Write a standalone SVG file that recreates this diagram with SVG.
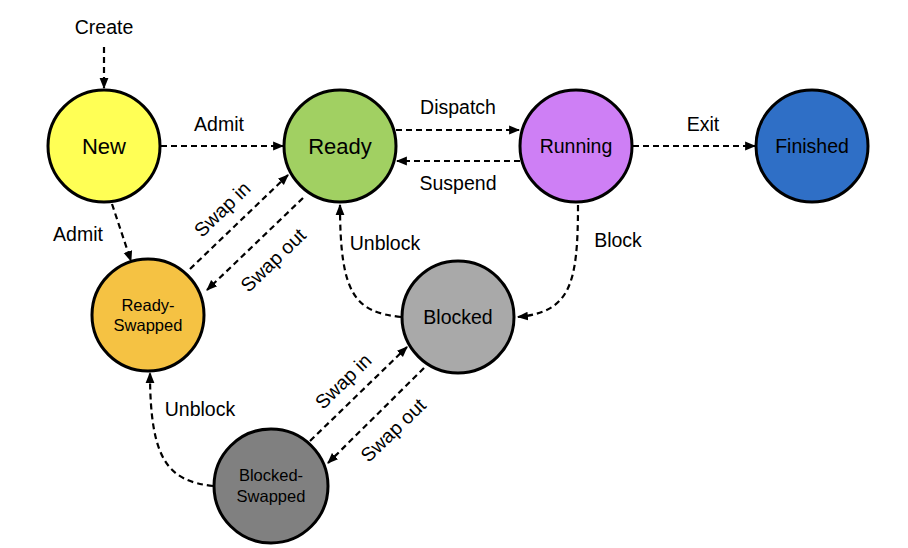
<svg xmlns="http://www.w3.org/2000/svg" width="908" height="548" viewBox="0 0 908 548">
<style>
.n{stroke:#000;stroke-width:3}
.t{font-family:"Liberation Sans",Arial,sans-serif;fill:#000;text-anchor:middle;dominant-baseline:central}
.e{fill:none;stroke:#000;stroke-width:2.2;stroke-dasharray:6,4;marker-end:url(#a)}
.l{font-family:"Liberation Sans",Arial,sans-serif;font-size:19.5px;fill:#000;text-anchor:middle;dominant-baseline:central}
</style>
<defs>
<marker id="a" viewBox="0 0 10 10" refX="9" refY="5" markerWidth="5" markerHeight="5" orient="auto" markerUnits="strokeWidth">
<path d="M0,1 L10,5 L0,9 Z" fill="#000"/>
</marker>
</defs>
<rect width="908" height="548" fill="#fff"/>
<g id="connectors">
<path class="e" d="M104,47 L104,88"/>
<path class="e" d="M161,146 L283,146"/>
<path class="e" d="M396,130 L519,130"/>
<path class="e" d="M520,161 L397,161"/>
<path class="e" d="M633,146 L755,146"/>
<path class="e" d="M578,205 C578,285 570,312 518,317"/>
<path class="e" d="M401,317 C355,312 340,295 340,205"/>
<path class="e" d="M112,204 L131,261"/>
<path class="e" d="M190,269 L288,175"/>
<path class="e" d="M303,198 L207,290"/>
<path class="e" d="M310,441 L407,347"/>
<path class="e" d="M424,368 L328,463"/>
<path class="e" d="M213,486 C168,481 150,460 150,373"/>
</g>
<g id="labels">
<text class="l" x="104" y="27">Create</text>
<text class="l" x="219" y="124">Admit</text>
<text class="l" x="458" y="107">Dispatch</text>
<text class="l" x="458" y="183">Suspend</text>
<text class="l" x="703" y="124">Exit</text>
<text class="l" x="618" y="240">Block</text>
<text class="l" x="385" y="243">Unblock</text>
<text class="l" x="78" y="234">Admit</text>
<text class="l" x="200" y="409">Unblock</text>
<text class="l" transform="translate(222,209) rotate(-44)">Swap in</text>
<text class="l" transform="translate(273,260) rotate(-44)">Swap out</text>
<text class="l" transform="translate(343,381) rotate(-44)">Swap in</text>
<text class="l" transform="translate(393,430) rotate(-44)">Swap out</text>
</g>
<g id="new"><circle class="n" cx="104" cy="146" r="56" fill="#FFFF55"/><text class="t" x="104" y="146" font-size="22">New</text></g>
<g id="ready"><circle class="n" cx="340" cy="146" r="56" fill="#A1D062"/><text class="t" x="340" y="146" font-size="22">Ready</text></g>
<g id="running"><circle class="n" cx="576" cy="146" r="56" fill="#CE7FF5"/><text class="t" x="576" y="146" font-size="19.5">Running</text></g>
<g id="finished"><circle class="n" cx="812" cy="146" r="56" fill="#2F6FC6"/><text class="t" x="812" y="146" font-size="19.5">Finished</text></g>
<g id="ready-swapped"><circle class="n" cx="148" cy="315" r="56" fill="#F5C243"/><text class="t" x="148" y="305" font-size="16.5">Ready-</text><text class="t" x="148" y="325" font-size="16.5">Swapped</text></g>
<g id="blocked"><circle class="n" cx="458" cy="317" r="56" fill="#A9A9A9"/><text class="t" x="458" y="317" font-size="19.5">Blocked</text></g>
<g id="blocked-swapped"><circle class="n" cx="271" cy="486" r="57" fill="#808080"/><text class="t" x="271" y="475" font-size="16.5">Blocked-</text><text class="t" x="271" y="496" font-size="16.5">Swapped</text></g>
</svg>
